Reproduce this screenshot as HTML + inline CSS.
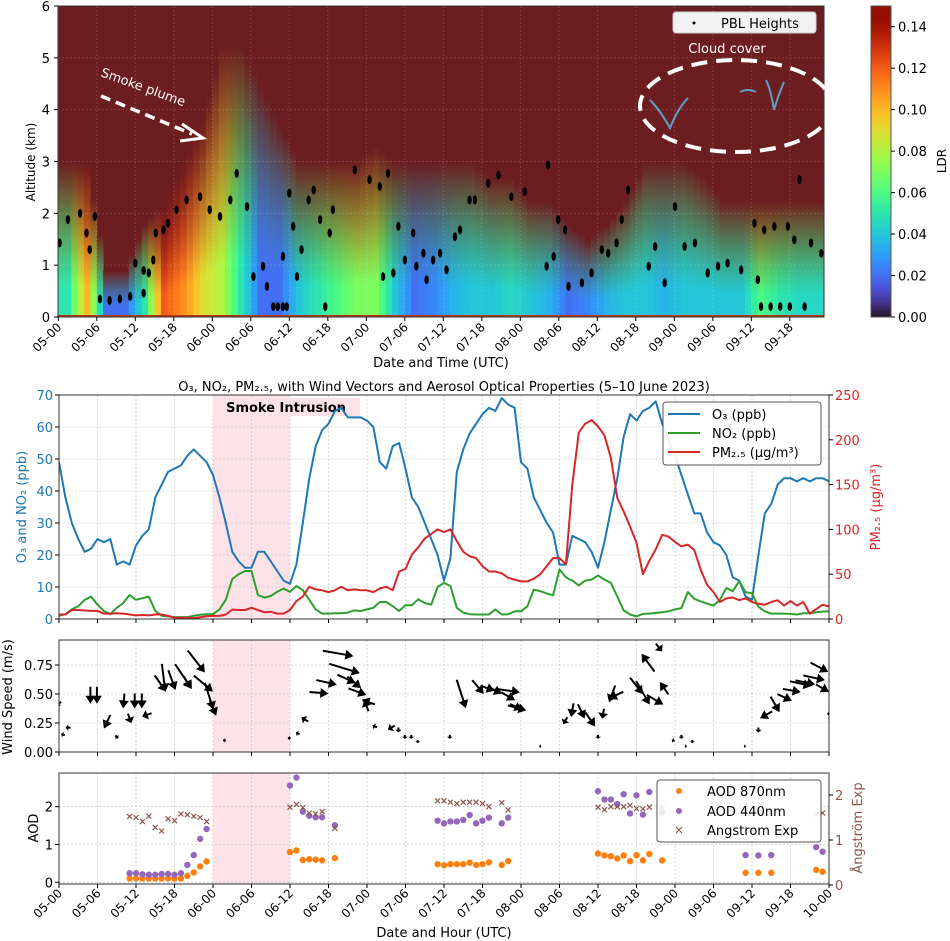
<!DOCTYPE html>
<html><head><meta charset="utf-8"><style>
html,body{margin:0;padding:0;background:#fff;}
svg{display:block;font-family:"DejaVu Sans","Liberation Sans",sans-serif;}
</style></head><body>
<svg id="fig" width="950" height="941" viewBox="0 0 950 941" xmlns="http://www.w3.org/2000/svg"></svg>
<script>
// ---------- DATA ----------
const ldrSurface=[0.05,0.1,0.02,0.02,0.05,0.12,0.11,0.09,0.08,0.05,0.02,0.02,0.04,0.05,0.06,0.07,0.07,0.04,0.02,0.025,0.035,0.04,0.04,0.045,0.04,0.035,0.02,0.025,0.035,0.04,0.04,0.035,0.04,0.04,0.04,0.04,0.06,0.05,0.045,0.045];
const layerTopKm=[2,2,0.6,0.6,1.2,1.5,2,2.5,3.5,3.5,3,2.5,2,2,2,2,2.2,2,2,2,2,2,1.8,1.8,1.5,1.5,1.2,1.0,1.2,1.5,2,2,2,1.8,1.5,1.5,1.5,1.5,1.5,1.5];
const pblHour=[0.2,1.5,3.4,4.4,4.9,5.7,6.5,8,9.6,11.2,12,13.3,14.1,14.8,13.3,15.2,16.4,17.1,18.4,20,22.1,23.6,25.2,26.8,27.8,29.4,30.4,31.9,32.5,33.5,34.2,35,35.6,35,36,36.6,37.2,37.9,39,39.8,40.8,41.6,42.3,42.8,46.2,48.5,50.1,51.4,50.6,52.2,53,54,55.3,55.8,56.9,57.4,58.4,59.5,60.5,61.8,62.6,64.1,64.9,67,68.6,70.6,72.7,76.3,76.1,77.2,77.9,79,79.5,81.6,83.1,84.7,85.7,87,87.8,88.8,92,93,94.5,96.1,97.6,99.2,101.2,102.8,104.3,106.4,108.5,109,109.5,111,112.5,114,116.3,110,111.6,113.7,114.7,115.5,117.3,118.9];
const pblKm=[1.43,1.88,2.0,1.62,1.3,1.94,0.35,0.32,0.35,0.4,1.04,0.9,0.85,1.1,0.46,1.62,1.68,1.81,2.07,2.26,2.32,2.07,1.94,2.26,2.77,2.13,0.78,0.98,0.59,0.2,0.2,0.2,0.2,1.17,2.39,1.75,0.78,1.3,2.26,2.45,1.88,0.2,1.62,2.07,2.84,2.65,2.52,2.77,0.78,0.85,1.75,1.1,1.62,0.98,1.23,0.72,1.1,1.23,0.91,1.55,1.68,2.26,2.26,2.58,2.74,2.32,2.42,2.93,0.98,1.17,1.88,1.68,0.59,0.66,0.85,1.3,1.23,1.43,1.88,2.45,0.98,1.36,0.66,2.13,1.36,1.43,0.85,0.98,1.04,0.91,1.81,0.72,0.2,0.2,0.2,0.2,0.2,1.68,1.75,1.75,1.49,2.65,1.43,1.23];
const topTicks=["05-00","05-06","05-12","05-18","06-00","06-06","06-12","06-18","07-00","07-06","07-12","07-18","08-00","08-06","08-12","08-18","09-00","09-06","09-12","09-18"];
const botTicks=["05-00","05-06","05-12","05-18","06-00","06-06","06-12","06-18","07-00","07-06","07-12","07-18","08-00","08-06","08-12","08-18","09-00","09-06","09-12","09-18","10-00"];
const o3=[49,38,30,25,21,22,25,24,25,17,18,17,23,26,28,38,42,46,47,48,51,53,51,49,45,38,30,21,18,16,16,21,21,18,15,12,11,17,30,44,54,59,61,65,66,63,63,63,62,60,49,47,54,55,47,38,35,30,25,20,12,19,46,53,58,61,64,66,65,69,67,66,49,47,38,34,30,27,17,17,26,25,24,21,16,24,34,44,57,64,62,65,66,68,61,56,51,45,39,33,33,27,24,23,20,13,12,7,6,20,33,36,42,44,44,43,44,43,44,44,43];
const no2=[1,1.5,3,4,6,7,4.5,2.5,1.5,3.5,5,7.5,6,6.5,7,2.5,1,0.8,0.6,0.6,0.6,1,1.3,1.5,1.5,3,6,12.5,14,15,15,7.5,6.7,7.2,8.5,9.5,8.5,10.3,9,6,3,1.7,1.7,1.8,1.8,2,2.7,2.5,3,3.5,5.3,5.3,4,2.5,4.3,4.3,6.2,5,4.5,10,11.3,10.3,3.5,2,1.5,1.4,1.4,1.4,3,1.4,1.5,2.4,2.4,4,9.2,8.7,8,7.4,15.5,13,12,10.5,12,12.3,13.6,12.3,11.3,7,2.7,1.4,0.8,1.6,1.7,1.9,2.1,2.4,3,3.4,8.4,6.3,5.5,4.8,4.2,6,9.7,8.7,11.8,8.4,8,3.8,2.4,1.7,1.7,1.7,1.6,1.4,1.8,1.8,2.1,2.3,2.4];
const pm25=[5,5,10,10,9.5,9,9,6,6,6.5,6,5,4,4.5,4,5,5,3.5,1.5,1.5,1.5,1,2,3,3.5,3.5,5,10.5,10,10,12.5,10,7.5,8,6,6,10,20,25,36,33,32,30,32,36,32,33,32,32,30,34,36,32,53,56,72,80,90,95,100,97,100,87,75,70,68,59,53,53,51,46,44,42,42,45,50,59,68,68,61,150,208,218,222,215,205,180,135,120,103,85,50,65,78,94,92,86,81,83,77,55,38,30,19,23,24,21,23,19,17,16,19,21,15,20,15,19,6,11,16,14];
const o3Ticks=[0,10,20,30,40,50,60,70];
const pmTicks=[0,50,100,150,200,250];
const windHour=[0,0.6,1.4,4.9,5.9,7.5,9,10.1,11,11.8,12.9,13.7,15.8,16.3,17.6,19.4,20,21.4,22.5,23.4,24,25.8,35.9,37.2,38.3,40.5,41.7,43.5,44.5,44.8,46,46.5,48.2,47.9,49.2,51.8,52.9,53.9,54.9,55.9,60.9,62.7,65.3,66.8,68,69.9,70,71.4,71.2,75,78.9,80,81.4,82.8,84,84.8,86.2,86.8,90,91,92.9,91.8,93.5,94.3,95.7,97,97.7,98.7,106.9,109,110.2,111.6,113.1,114.2,115.6,116.3,117.7,118.5,119,120];
const windSpeed=[0.42,0.15,0.21,0.49,0.49,0.26,0.13,0.44,0.29,0.44,0.44,0.32,0.59,0.64,0.62,0.65,0.6,0.78,0.59,0.48,0.38,0.1,0.12,0.16,0.28,0.51,0.6,0.85,0.72,0.63,0.6,0.52,0.43,0.4,0.22,0.21,0.19,0.13,0.13,0.09,0.13,0.5,0.56,0.55,0.53,0.53,0.48,0.38,0.39,0.05,0.27,0.36,0.35,0.28,0.13,0.33,0.5,0.49,0.57,0.51,0.45,0.77,0.9,0.55,0.1,0.13,0.05,0.09,0.05,0.19,0.32,0.41,0.47,0.53,0.59,0.6,0.64,0.73,0.55,0.33];
const windDir=[150,200,180,90,90,115,45,95,70,90,90,160,55,83,70,56,60,52,40,72,68,0,0,200,210,5,13,10,17,25,40,20,200,250,200,150,90,90,90,90,90,72,50,20,25,8,30,15,25,0,120,100,65,55,90,100,110,155,52,60,30,234,52,235,200,90,0,90,0,90,150,60,25,10,12,12,12,28,30,180];
const windLen=[5,4,5,17,17,15,4,15,10,15,15,10,20,28,21,30,14,28,25,28,17,3,3,4,8,19,21,31,32,20,18,19,14,12,5,8,5,4,4,3,4,30,18,15,15,25,16,19,13,2,8,14,16,17,4,10,18,16,21,27,19,22,10,15,3,4,2,3,2,5,14,18,16,18,22,20,22,20,15,4];
const windTicks=[0,0.25,0.5,0.75];
const aodHour=[11,12,13,14,15,16,17,18,19,20,21,22,23,36,37,38,39,40,41,43,59,60,61,62,63,64,65,66,67,69,70,84,85,86,87,88,89,90,91,92,94,107,109,111,118,119];
const aod440=[0.24,0.24,0.21,0.2,0.2,0.22,0.22,0.2,0.24,0.46,0.72,1.15,1.41,2.56,2.77,1.87,1.76,1.72,1.72,1.51,1.63,1.56,1.61,1.61,1.65,1.78,1.56,1.63,1.71,1.56,1.71,2.41,2.19,2.19,2.07,2.33,1.82,2.3,1.79,2.39,1.85,0.72,0.71,0.72,0.93,0.81];
const aod870=[0.1,0.1,0.1,0.1,0.1,0.1,0.1,0.1,0.1,0.17,0.26,0.42,0.55,0.8,0.84,0.59,0.61,0.6,0.58,0.64,0.48,0.45,0.48,0.48,0.48,0.52,0.46,0.48,0.53,0.46,0.56,0.76,0.71,0.69,0.63,0.71,0.56,0.72,0.58,0.75,0.58,0.25,0.25,0.25,0.33,0.28];
const angstrom=[1.52,1.5,1.41,1.53,1.28,1.2,1.47,1.43,1.58,1.56,1.53,1.5,1.41,1.73,1.79,1.72,1.6,1.58,1.63,1.26,1.87,1.87,1.84,1.81,1.84,1.84,1.84,1.81,1.74,1.83,1.67,1.73,1.67,1.74,1.74,1.74,1.77,1.7,1.69,1.73,1.74,1.63,1.63,1.61,1.57,1.6];
const smokeStart=24, smokeEnd=36;

// ---------- HELPERS ----------
const NS="http://www.w3.org/2000/svg";
const svg=document.getElementById('fig');
function mk(tag,attrs,parent,text){const e=document.createElementNS(NS,tag);for(const k in attrs)e.setAttribute(k,attrs[k]);if(text!==undefined)e.textContent=text;(parent||svg).appendChild(e);return e;}
function turboRGB(t){t=Math.max(0,Math.min(1,t));
 const r=0.13572138+t*(4.61539260+t*(-42.66032258+t*(132.13108234+t*(-152.94239396+t*59.28637943))));
 const g=0.09140261+t*(2.19418839+t*(4.84296658+t*(-14.18503333+t*(4.27729857+t*2.82956604))));
 const b=0.10667330+t*(12.64194608+t*(-60.58204836+t*(110.36276771+t*(-89.90310912+t*27.34824973))));
 const c=v=>Math.max(0,Math.min(1,v))*255;return [c(r),c(g),c(b)];}
function rgb(a){return `rgb(${Math.round(a[0])},${Math.round(a[1])},${Math.round(a[2])})`;}
function turbo(t){return rgb(turboRGB(t));}
const MAROON=[108,29,32];
const XL=59, XR=829, HMAX=120;
const X=h=>XL+h*(XR-XL)/HMAX;
const XT=h=>58.3+h*6.417;
const YT=km=>317-km*(311/6);
const P2={top:395,bot:619}, YO3=v=>P2.bot-v*(P2.bot-P2.top)/70, YPM=v=>P2.bot-v*(P2.bot-P2.top)/250;
const P3={top:640,bot:752}, YW=v=>P3.bot-v*116;
const P4={top:773,bot:884}, YA=v=>882.3-v*37.8, YANG=v=>885-v*45;
const defs=mk('defs',{});

// ---------- TOP LIDAR PANEL ----------
const clipT=mk('clipPath',{id:'ct'},defs);mk('rect',{x:58,y:6,width:766,height:311},clipT);
const gTop=mk('g',{});
mk('rect',{x:58,y:6,width:766,height:311,fill:rgb(MAROON)},gTop);
const gHeat=mk('g',{'clip-path':'url(#ct)'},gTop);
const nRows=90;
for(let hc=0;hc<120;hc++){
  const f=(hc+0.5)/3-0.5; const i0=Math.max(0,Math.min(ldrSurface.length-1,Math.floor(f))), i1=Math.min(ldrSurface.length-1,i0+1); const w=Math.max(0,Math.min(1,f-i0));
  const s=ldrSurface[i0]*(1-w)+ldrSurface[i1]*w, T=layerTopKm[i0]*(1-w)+layerTopKm[i1]*w;
  for(let r=0;r<nRows;r++){
    const z=(r+0.5)*(T*1.5/nRows); if(z>T*1.5) continue;
    let q=0; if(z>0.3*T){q=Math.min(1,(z-0.3*T)/(1.2*T));}
    const mid=turboRGB(Math.min(1,(s+0.02*q)/0.15));
    const m=Math.pow(q,1.1);
    const col=[0,1,2].map(k=>mid[k]*(1-m)+MAROON[k]*m);
    const y0=YT(z+T*1.5/nRows/2), hgt=(T*1.5/nRows)*(311/6)+0.6;
    const c=mk('rect',{x:XT(hc).toFixed(2),y:y0.toFixed(2),width:6.7,height:hgt.toFixed(2),fill:rgb(col)},gHeat);
    
    
  }
}
mk('rect',{x:58,y:315,width:766,height:2,fill:'#b8350f'},gTop);
[[650,100,'M0,0 q10,10 20,28 q8,-20 18,-30'],[740,92,'M0,0 q8,-4 16,0'],[766,80,'M0,0 q5,10 8,30 M8,30 q4,-14 10,-28']].forEach(p=>{
 const e=mk('path',{d:p[2],transform:`translate(${p[0]},${p[1]})`,stroke:'#58c0f0',fill:'none','stroke-width':2,opacity:0.8},gTop);
 });
for(let i=0;i<topTicks.length;i++){mk('line',{x1:XT(i*6),x2:XT(i*6),y1:6,y2:317,stroke:'#ffffff',opacity:0.15,'stroke-dasharray':'2,2'},gTop);}
for(let k=1;k<6;k++){mk('line',{x1:58,x2:824,y1:YT(k),y2:YT(k),stroke:'#ffffff',opacity:0.15,'stroke-dasharray':'2,2'},gTop);}
const gPbl=mk('g',{},gTop);
for(let i=0;i<pblHour.length;i++){
  const d=mk('ellipse',{cx:XT(pblHour[i]).toFixed(1),cy:YT(pblKm[i]).toFixed(1),rx:2.2,ry:4.5,fill:'#000'},gPbl);
  
}
mk('rect',{x:58,y:6,width:766,height:311,fill:'none',stroke:'#333','stroke-width':1},gTop);
const gTY=mk('g',{});
for(let k=0;k<=6;k++){mk('line',{x1:54,x2:58,y1:YT(k),y2:YT(k),stroke:'#000'},gTY);mk('text',{x:50,y:YT(k)+5,'text-anchor':'end','font-size':13},gTY,String(k));}
mk('text',{x:35,y:162,'text-anchor':'middle','font-size':12,transform:'rotate(-90 35 162)',},svg,'Altitude (km)');
const gTX=mk('g',{});
topTicks.forEach((t,i)=>{const x=XT(i*6);mk('line',{x1:x,x2:x,y1:317,y2:321,stroke:'#000'},gTX);
 mk('text',{x:x+4,y:328,'text-anchor':'end','font-size':12,transform:`rotate(-45 ${x+4} 328)`},gTX,t);});
mk('text',{x:441,y:367,'text-anchor':'middle','font-size':13,},svg,'Date and Time (UTC)');
mk('text',{x:100,y:76,fill:'#fff','font-size':13,transform:'rotate(20 100 76)',},svg,'Smoke plume');
mk('line',{x1:101,y1:96,x2:192,y2:134,stroke:'#fff','stroke-width':3.5,'stroke-dasharray':'10,6',});
mk('path',{d:'M182,124 L203,138 L180,141',fill:'none',stroke:'#fff','stroke-width':3,});
mk('text',{x:727,y:53,fill:'#fff','font-size':13,'text-anchor':'middle',},svg,'Cloud cover');
mk('ellipse',{cx:736,cy:106,rx:96,ry:46,fill:'none',stroke:'#fff','stroke-width':4,'stroke-dasharray':'16,9',});
const gLT=mk('g',{});
mk('rect',{x:673,y:12,width:143,height:21,rx:3,fill:'#f2f2f2',stroke:'#ccc'},gLT);
mk('circle',{cx:694,cy:23,r:1.5,fill:'#000'},gLT);
mk('text',{x:721,y:28,'font-size':13},gLT,'PBL Heights');
const cg=mk('linearGradient',{id:'cbar',x1:0,y1:1,x2:0,y2:0},defs);
for(let i=0;i<=20;i++){mk('stop',{offset:i/20,'stop-color':turbo(i/20)},cg);}
const gCB=mk('g',{});
mk('rect',{x:871,y:6,width:20,height:311,fill:'url(#cbar)',stroke:'#555'},gCB);
for(let k=0;k<=7;k++){const v=k*0.02,y=317-v/0.15*311;mk('line',{x1:891,x2:895,y1:y,y2:y,stroke:'#000'},gCB);mk('text',{x:898,y:y+5,'font-size':13},gCB,v.toFixed(2));}
mk('text',{x:946,y:161,'text-anchor':'middle','font-size':12,transform:'rotate(-90 946 161)',},svg,'LDR');

// ---------- TITLE ----------
mk('text',{x:444,y:391,'text-anchor':'middle','font-size':13,},svg,'O₃, NO₂, PM₂.₅, with Wind Vectors and Aerosol Optical Properties (5–10 June 2023)');

[P2,P3,P4].forEach(p=>{const r=mk('rect',{x:X(smokeStart),y:p.top,width:X(smokeEnd)-X(smokeStart),height:p.bot-p.top,fill:'#fde3e8'});
 });

function grid(p,ys){const g=mk('g',{});
 for(let i=0;i<botTicks.length;i++){const x=X(i*6);mk('line',{x1:x,x2:x,y1:p.top,y2:p.bot,stroke:'#bbb','stroke-width':0.6,'stroke-dasharray':'2,2'},g);}
 ys.forEach(y=>mk('line',{x1:XL,x2:XR,y1:y,y2:y,stroke:'#bbb','stroke-width':0.6,'stroke-dasharray':'2,2'},g));}
function xticks(p){const g=mk('g',{});for(let i=0;i<botTicks.length;i++){const x=X(i*6);mk('line',{x1:x,x2:x,y1:p.bot,y2:p.bot+4,stroke:'#000'},g);}}

// ---------- PANEL 2 ----------
grid(P2,o3Ticks.map(YO3));
const gP2=mk('g',{});
mk('rect',{x:213,y:398,width:147,height:18,fill:'#fde3e8',},gP2);
mk('text',{x:286,y:412,'text-anchor':'middle','font-size':13,'font-weight':'bold',},gP2,'Smoke Intrusion');
const clip=mk('clipPath',{id:'c2'},defs);mk('rect',{x:XL,y:P2.top,width:XR-XL,height:P2.bot-P2.top},clip);
const gLines=mk('g',{'clip-path':'url(#c2)',},gP2);
function line2(arr,yf,color,name){const d=arr.map((v,i)=>(i?'L':'M')+X(i).toFixed(1)+','+yf(v).toFixed(1)).join('');
 const p=mk('path',{d:d,fill:'none',stroke:color,'stroke-width':2,'stroke-linejoin':'round'},gLines);}
line2(o3,YO3,'#1f77b4','o3-line');line2(no2,YO3,'#2ca02c','no2-line');line2(pm25,YPM,'#d62728','pm25-line');
mk('rect',{x:XL,y:P2.top,width:XR-XL,height:P2.bot-P2.top,fill:'none',stroke:'#333'},gP2);
o3Ticks.forEach(v=>{const y=YO3(v);mk('line',{x1:XL-4,x2:XL,y1:y,y2:y,stroke:'#000'},gP2);mk('text',{x:XL-6,y:y+5,'text-anchor':'end','font-size':13,fill:'#1f77b4'},gP2,String(v));});
pmTicks.forEach(v=>{const y=YPM(v);mk('line',{x1:XR,x2:XR+4,y1:y,y2:y,stroke:'#000'},gP2);mk('text',{x:XR+6,y:y+5,'font-size':13,fill:'#d62728'},gP2,String(v));});
xticks(P2);
mk('text',{x:26,y:507,'text-anchor':'middle','font-size':13,fill:'#1f77b4',transform:'rotate(-90 26 507)',},svg,'O₃ and NO₂ (ppb)');
mk('text',{x:880,y:507,'text-anchor':'middle','font-size':13,fill:'#d62728',transform:'rotate(-90 880 507)',},svg,'PM₂.₅ (µg/m³)');
const gL2=mk('g',{});
mk('rect',{x:663,y:402,width:158,height:63,rx:3,fill:'#fff',stroke:'#555','fill-opacity':0.9},gL2);
[['O₃ (ppb)','#1f77b4',414],['NO₂ (ppb)','#2ca02c',433],['PM₂.₅ (µg/m³)','#d62728',452]].forEach(e=>{
 mk('line',{x1:668,x2:700,y1:e[2],y2:e[2],stroke:e[1],'stroke-width':2},gL2);mk('text',{x:712,y:e[2]+5,'font-size':13},gL2,e[0]);});

// ---------- PANEL 3 (WIND) ----------
grid(P3,windTicks.map(YW));
const gP3=mk('g',{});
const clip3=mk('clipPath',{id:'c3'},defs);mk('rect',{x:XL,y:P3.top,width:XR-XL,height:P3.bot-P3.top},clip3);
const gArr=mk('g',{'clip-path':'url(#c3)',},gP3);
for(let i=0;i<windHour.length;i++){
  const L=windLen[i], hl=Math.min(8,L*0.55), hw=Math.min(5,1.5+L*0.35);
  const a=-L/2, b=L/2;
  const d=`M${a},-1 L${b-hl},-1 L${b-hl},${-hw} L${b},0 L${b-hl},${hw} L${b-hl},1 L${a},1 Z`;
  const p=mk('path',{d:d,fill:'#000',transform:`translate(${X(windHour[i]).toFixed(1)},${YW(windSpeed[i]).toFixed(1)}) rotate(${windDir[i]})`},gArr);
  
}
mk('rect',{x:XL,y:P3.top,width:XR-XL,height:P3.bot-P3.top,fill:'none',stroke:'#333'},gP3);
windTicks.forEach(v=>{const y=YW(v);mk('line',{x1:XL-4,x2:XL,y1:y,y2:y,stroke:'#000'},gP3);mk('text',{x:XL-6,y:y+5,'text-anchor':'end','font-size':13},gP3,v.toFixed(2));});
xticks(P3);
mk('text',{x:12,y:697,'text-anchor':'middle','font-size':13,transform:'rotate(-90 12 697)',},svg,'Wind Speed (m/s)');

// ---------- PANEL 4 (AOD) ----------
grid(P4,[0,1,2].map(YA));
const gP4=mk('g',{});
for(let i=0;i<aodHour.length;i++){
  const x=X(aodHour[i]);
  const p1=mk('circle',{cx:x,cy:YA(aod870[i]),r:3.2,fill:'#ff7f0e'},gP4);
  const p2=mk('circle',{cx:x,cy:YA(aod440[i]),r:3.2,fill:'#9467bd'},gP4);
  const y=YANG(angstrom[i]);
  const p3=mk('path',{d:`M${x-2.5},${y-2.5}L${x+2.5},${y+2.5}M${x-2.5},${y+2.5}L${x+2.5},${y-2.5}`,stroke:'#8c564b','stroke-width':1.2},gP4);
}
mk('rect',{x:XL,y:P4.top,width:XR-XL,height:P4.bot-P4.top,fill:'none',stroke:'#333'},gP4);
[0,1,2].forEach(v=>{const y=YA(v);mk('line',{x1:XL-4,x2:XL,y1:y,y2:y,stroke:'#000'},gP4);mk('text',{x:XL-6,y:y+5,'text-anchor':'end','font-size':13},gP4,String(v));});
[0,1,2].forEach(v=>{const y=YANG(v);mk('line',{x1:XR,x2:XR+4,y1:y,y2:y,stroke:'#000'},gP4);mk('text',{x:XR+6,y:y+5,'font-size':13,fill:'#8c564b'},gP4,String(v));});
mk('text',{x:38,y:828,'text-anchor':'middle','font-size':13,transform:'rotate(-90 38 828)',},svg,'AOD');
mk('text',{x:862,y:828,'text-anchor':'middle','font-size':13,fill:'#8c564b',transform:'rotate(-90 862 828)',},svg,'Ångström Exp');
const gL4=mk('g',{});
mk('rect',{x:657,y:780,width:164,height:62,rx:3,fill:'#fff','fill-opacity':0.85,stroke:'#555'},gL4);
mk('circle',{cx:679,cy:791,r:3,fill:'#ff7f0e'},gL4);mk('text',{x:707,y:796,'font-size':13},gL4,'AOD 870nm');
mk('circle',{cx:679,cy:811,r:3,fill:'#9467bd'},gL4);mk('text',{x:707,y:816,'font-size':13},gL4,'AOD 440nm');
mk('path',{d:'M676,827L682,833M676,833L682,827',stroke:'#8c564b'},gL4);mk('text',{x:707,y:835,'font-size':13},gL4,'Angstrom Exp');
const gBX=mk('g',{});
botTicks.forEach((t,i)=>{const x=X(i*6);mk('line',{x1:x,x2:x,y1:P4.bot,y2:P4.bot+4,stroke:'#000'},gBX);
 mk('text',{x:x+4,y:894,'text-anchor':'end','font-size':12,transform:`rotate(-45 ${x+4} 894)`},gBX,t);});
mk('text',{x:444,y:937,'text-anchor':'middle','font-size':13,},svg,'Date and Hour (UTC)');
</script>
</body></html>
